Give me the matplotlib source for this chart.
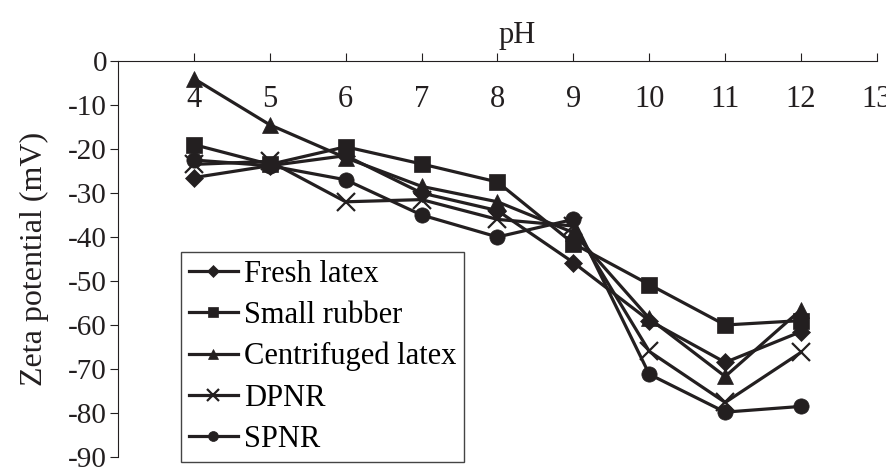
import numpy as np
import matplotlib.pyplot as plt

ph = [4, 5, 6, 7, 8, 9, 10, 11, 12]

fresh_latex = [-26.5, -23.8, -21.5, -30.0, -34.0, -45.8, -59.0, -68.5, -61.5]
small_rubber = [-19.0, -23.5, -19.5, -23.4, -27.5, -41.5, -50.8, -60.0, -59.0]
centrifuged = [-4.0, -14.5, -22.0, -28.5, -32.0, -39.0, -58.5, -71.7, -56.5]
dpnr = [-23.5, -22.8, -32.0, -31.5, -36.0, -37.5, -66.0, -77.6, -66.2]
spnr = [-22.5, -23.8, -27.0, -35.0, -40.0, -36.0, -71.2, -79.8, -78.5]

names = ["Fresh latex", "Small rubber", "Centrifuged latex", "DPNR", "SPNR"]
series = [fresh_latex, small_rubber, centrifuged, dpnr, spnr]
markers = ["D", "s", "^", "x", "o"]
msizes = [9, 11, 12, 13, 11]

ink = "#231f20"
plt.rcParams['font.family'] = ['Liberation Serif', 'DejaVu Serif']
plt.rcParams['axes.unicode_minus'] = False

fig = plt.figure(figsize=(8.87, 4.71), dpi=100)
ax = fig.add_axes([118 / 887, 1 - 457 / 471, (877 - 118) / 887, (457 - 61) / 471])

for vals, name, m, ms in zip(series, names, markers, msizes):
    ax.plot(ph, vals, color=ink, linewidth=2.3, marker=m, markersize=ms,
            markeredgewidth=1.6 if m == "x" else 0.5, label=name)

ax.set_xlim(3, 13)
ax.set_ylim(-90, 0)
ax.set_yticks(np.arange(-90, 1, 10))
ax.set_xticks(range(4, 14))

ax.spines['right'].set_visible(False)
ax.spines['bottom'].set_visible(False)
ax.spines['left'].set_color(ink)
ax.spines['top'].set_color(ink)
ax.xaxis.tick_top()
ax.tick_params(axis='x', direction='out', length=6, color=ink, labelsize=22,
               pad=-44, labelcolor=ink)
ax.tick_params(axis='y', direction='out', length=6, color=ink, labelsize=21,
               labelcolor=ink, pad=2)

ax.set_ylabel("Zeta potential (mV)", fontsize=23, color=ink, labelpad=14)
fig.text(517 / 887, 1 - 35 / 471, "pH", fontsize=22, color=ink,
         ha='center', va='center')

leg = ax.legend(loc='upper left', bbox_to_anchor=(0.083, 0.518), borderaxespad=0,
                fontsize=22, fancybox=False, edgecolor='#444444', framealpha=1,
                markerscale=0.65, handlelength=1.6, handletextpad=0.2,
                labelspacing=0.4, borderpad=0.25)
leg.get_frame().set_linewidth(1.0)

fig.savefig("out.png", dpi=100)
